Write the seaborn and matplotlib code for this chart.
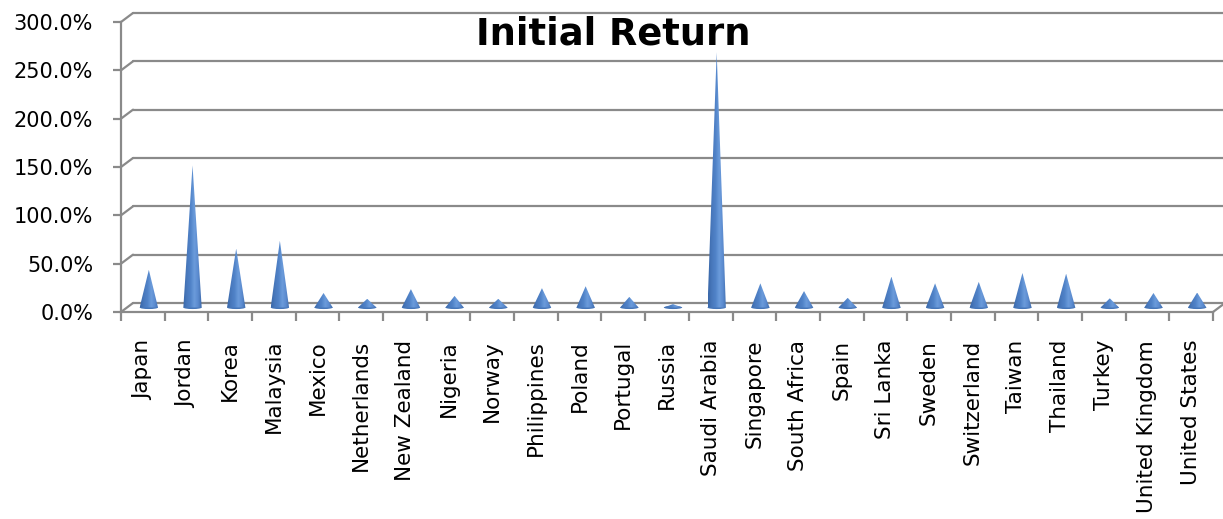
import numpy as np
import pandas as pd
import matplotlib.pyplot as plt
import seaborn as sns
from matplotlib.patches import Polygon, Ellipse
from matplotlib.lines import Line2D
from matplotlib.transforms import ScaledTranslation, IdentityTransform
from matplotlib.colors import LinearSegmentedColormap

# Data (initial return, %)
countries = ['Japan', 'Jordan', 'Korea', 'Malaysia', 'Mexico', 'Netherlands', 'New Zealand',
             'Nigeria', 'Norway', 'Philippines', 'Poland', 'Portugal', 'Russia', 'Saudi Arabia',
             'Singapore', 'South Africa', 'Spain', 'Sri Lanka', 'Sweden', 'Switzerland',
             'Taiwan', 'Thailand', 'Turkey', 'United Kingdom', 'United States']
initial_return = [39, 147, 61, 69, 15, 9, 19, 12, 9, 20, 22, 11, 3.5, 264, 25, 17, 10, 32,
                  25, 26.5, 35.7, 35, 9.5, 15, 15.5]
y_ticks = [0, 50, 100, 150, 200, 250, 300]

df = pd.DataFrame({'Country': countries, 'Initial Return': initial_return})

sns.set_theme(style='white')
plt.rcParams['font.family'] = ['DejaVu Sans']
plt.rcParams['text.color'] = 'black'

W, H = 1223, 519
fig = plt.figure(figsize=(W / 100, H / 100), dpi=100)
ax = fig.add_axes([121 / W, 1 - 312 / H, (1213 - 121) / W, (312 - 22) / H])

sns.barplot(data=df, x='Country', y='Initial Return', color='#4F81BD', width=0.42, ax=ax)

grey = '#8A8A8A'
n = len(countries)
depth = ScaledTranslation(12 / 100, 9 / 100, fig.dpi_scale_trans)
mid = ScaledTranslation(6 / 100, 4.5 / 100, fig.dpi_scale_trans)

# back wall gridlines
for v in y_ticks:
    ax.plot([-0.5, n - 0.5], [v, v], color=grey, lw=1.6, transform=ax.transData + depth,
            clip_on=False, zorder=1)

# cones in place of the bars
cone_cmap = LinearSegmentedColormap.from_list(
    'cone', ['#3A67A8', '#4878BC', '#5083C8', '#6B9BDB', '#5B8BCF', '#3C69AA'])
grad = np.linspace(0, 1, 64).reshape(1, -1)
for patch in list(ax.patches):
    x0, w, h = patch.get_x(), patch.get_width(), patch.get_height()
    patch.set_visible(False)
    tr = ax.transData + mid
    tri = Polygon([(x0, 0), (x0 + w / 2, h), (x0 + w, 0)], closed=True, transform=tr,
                  facecolor='none', edgecolor='none')
    ax.add_patch(tri)
    base = Ellipse((x0 + w / 2, 0), w, 3.2, transform=tr, facecolor='#4676B8',
                   edgecolor='none', zorder=3, clip_on=False)
    ax.add_patch(base)
    im = ax.imshow(grad, cmap=cone_cmap, aspect='auto', extent=(x0, x0 + w, 0, max(h, 1)),
                   transform=tr, zorder=4, interpolation='bilinear')
    im.set_clip_path(tri)

ax.set_xlim(-0.5, n - 0.5)
ax.set_ylim(0, 300)

# axes styling
for s in ['top', 'right']:
    ax.spines[s].set_visible(False)
for s in ['left', 'bottom']:
    ax.spines[s].set_color(grey)
    ax.spines[s].set_linewidth(1.6)
ax.set_yticks(y_ticks)
ax.set_yticklabels([f'{v:.1f}%' for v in y_ticks], fontsize=15, color='black')
ax.tick_params(axis='y', length=6, width=1.6, color=grey, pad=14, left=True)
ax.set_xticks(range(n))
ax.set_xticklabels(countries, rotation=90, fontsize=15.5, color='black', va='top')
ax.tick_params(axis='x', which='major', length=0, pad=20)
ax.set_xticks(np.arange(-0.5, n, 1), minor=True)
ax.tick_params(axis='x', which='minor', length=6.5, width=1.6, color=grey, bottom=True,
               direction='out')
ax.set_xlabel('')
ax.set_ylabel('')

# depth lines on the left side and floor's right end
fig.canvas.draw()
for v in y_ticks:
    p = ax.transData.transform((-0.5, v))
    fig.add_artist(Line2D([p[0], p[0] + 12], [p[1], p[1] + 9], color=grey, lw=1.6,
                          transform=IdentityTransform()))
p = ax.transData.transform((n - 0.5, 0))
fig.add_artist(Line2D([p[0], p[0] + 12], [p[1], p[1] + 9], color=grey, lw=1.6,
                      transform=IdentityTransform()))

fig.text(613 / W, 1 - 34 / H, 'Initial Return', fontsize=26.5, fontweight='bold',
         color='black', ha='center', va='center')

fig.savefig('out.png', dpi=100, facecolor='white')
